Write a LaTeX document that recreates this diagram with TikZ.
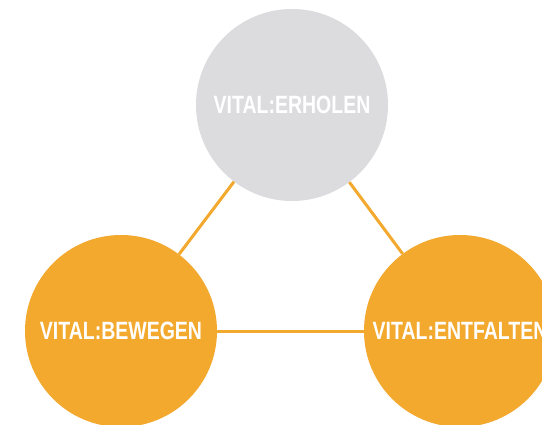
\documentclass[tikz,border=0pt]{standalone}
\usepackage{fontspec}
\newfontfamily\labelfont[FakeStretch=0.78]{Liberation Sans}
\definecolor{vitalorange}{RGB}{243,168,46}
\definecolor{vitalgray}{RGB}{220,220,223}
\tikzset{
	vital/.style={circle, minimum size=192pt, inner sep=0pt, text=white,
		font=\labelfont\bfseries\fontsize{25}{27}\selectfont},
	link/.style={vitalorange, line width=3pt}
}
\begin{document}
	\begin{tikzpicture}[x=1pt,y=-1pt]
		\useasboundingbox (0,0) rectangle (542,424);
		\clip (0,0) rectangle (542,424);
		\fill[white] (0,0) rectangle (542,424);
		
		% Circles
		\node[vital, fill=vitalgray] (erholen) at (292,105) {VITAL:ERHOLEN};
		\node[vital, fill=vitalorange] (bewegen) at (121,331) {VITAL:BEWEGEN};
		\node[vital, fill=vitalorange] (entfalten) at (460,331) {VITAL:ENTFALTEN};
		
		% Connections
		\draw[link] (erholen) -- (bewegen);
		\draw[link] (erholen) -- (entfalten);
		\draw[link] (bewegen) -- (entfalten);
	\end{tikzpicture}
\end{document}
